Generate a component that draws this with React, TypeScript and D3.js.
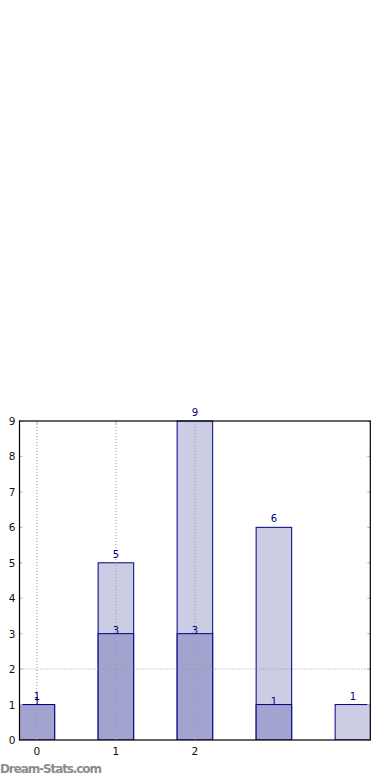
import React from "react";
import * as d3 from "d3";

// bar positions, lower (dark) series and stacked totals (light series on top)
const cats = [0, 1, 2, 3, 4];
const lower = [1, 3, 3, 1, 0];
const totals = [1, 5, 9, 6, 1];
const yTicks = [0, 1, 2, 3, 4, 5, 6, 7, 8, 9];
const xTicks = [0, 1, 2];
const xGrid = [0, 1, 2];
const yGrid = [2];

const W = 390, H = 780;
const left = 19.5, right = 370.3, top = 421, bottom = 740;
const barW = 0.45;

export default function App() {
  const x = d3.scaleLinear().domain([-0.22, 4.22]).range([left, right]);
  const y = d3.scaleLinear().domain([0, 9]).range([bottom, top]);
  const bw = x(barW) - x(0);
  const font = "DejaVu Sans, sans-serif";
  const navy = "#000080";

  return (
    <svg width={W} height={H} style={{ position: "absolute", left: 0, top: 0, background: "#fff" }}>
      <defs>
        <clipPath id="plot">
          <rect x={left} y={top - 1} width={right - left} height={bottom - top + 1} />
        </clipPath>
      </defs>
      <g clipPath="url(#plot)">
        {/* light (upper) segment drawn full height, dark segment on top */}
        {cats.map((c, i) => (
          <rect key={"t" + i} x={x(c) - bw / 2} y={y(totals[i])} width={bw}
            height={y(0) - y(totals[i])} fill="#ccccE4" stroke={navy} strokeWidth={1} />
        ))}
        {cats.map((c, i) => lower[i] > 0 && (
          <rect key={"l" + i} x={x(c) - bw / 2} y={y(lower[i])} width={bw}
            height={y(0) - y(lower[i])} fill="#a3a3cf" stroke={navy} strokeWidth={1} />
        ))}
      </g>
      {/* grid */}
      {xGrid.map(v => (
        <line key={"gx" + v} x1={x(v)} x2={x(v)} y1={top} y2={bottom}
          stroke="#999" strokeWidth={1} strokeDasharray="1,2" />
      ))}
      {yGrid.map(v => (
        <line key={"gy" + v} x1={left} x2={right} y1={y(v)} y2={y(v)}
          stroke="#999" strokeWidth={1} strokeDasharray="1,2" />
      ))}
      {/* ticks */}
      {yTicks.map(v => (
        <g key={"yt" + v}>
          <line x1={left} x2={left + 3} y1={y(v)} y2={y(v)} stroke="#bbb" strokeWidth={1.2} />
          <line x1={right - 3} x2={right} y1={y(v)} y2={y(v)} stroke="#bbb" strokeWidth={1.2} />
          <text x={left - 4} y={y(v) + 4} fontSize={10.5} fontFamily={font} textAnchor="end" fill="#111">{v}</text>
        </g>
      ))}
      {xTicks.map(v => (
        <g key={"xt" + v}>
          <line x1={x(v)} x2={x(v)} y1={bottom} y2={bottom - 3} stroke="#bbb" strokeWidth={1.2} />
          <line x1={x(v)} x2={x(v)} y1={top} y2={top + 3} stroke="#bbb" strokeWidth={1.2} />
          <text x={x(v)} y={bottom + 15} fontSize={10.5} fontFamily={font} textAnchor="middle" fill="#111">{v}</text>
        </g>
      ))}
      {/* frame */}
      <rect x={left} y={top} width={right - left} height={bottom - top} fill="none" stroke="#000" strokeWidth={1.2} />
      {/* value labels */}
      {cats.map((c, i) => (
        <text key={"vt" + i} x={x(c)} y={y(totals[i]) - 5} fontSize={10} fontFamily={font}
          textAnchor="middle" fill={navy}>{totals[i]}</text>
      ))}
      {cats.map((c, i) => lower[i] > 0 && (
        <text key={"vl" + i} x={x(c)} y={y(lower[i])} fontSize={10} fontFamily={font}
          textAnchor="middle" fill={navy}>{lower[i]}</text>
      ))}
      <text x={0} y={773.3} fontSize={12} fontFamily={font} fill="#8c8c8c" fontWeight="600" textLength={102}>Dream-Stats.com</text>
    </svg>
  );
}
